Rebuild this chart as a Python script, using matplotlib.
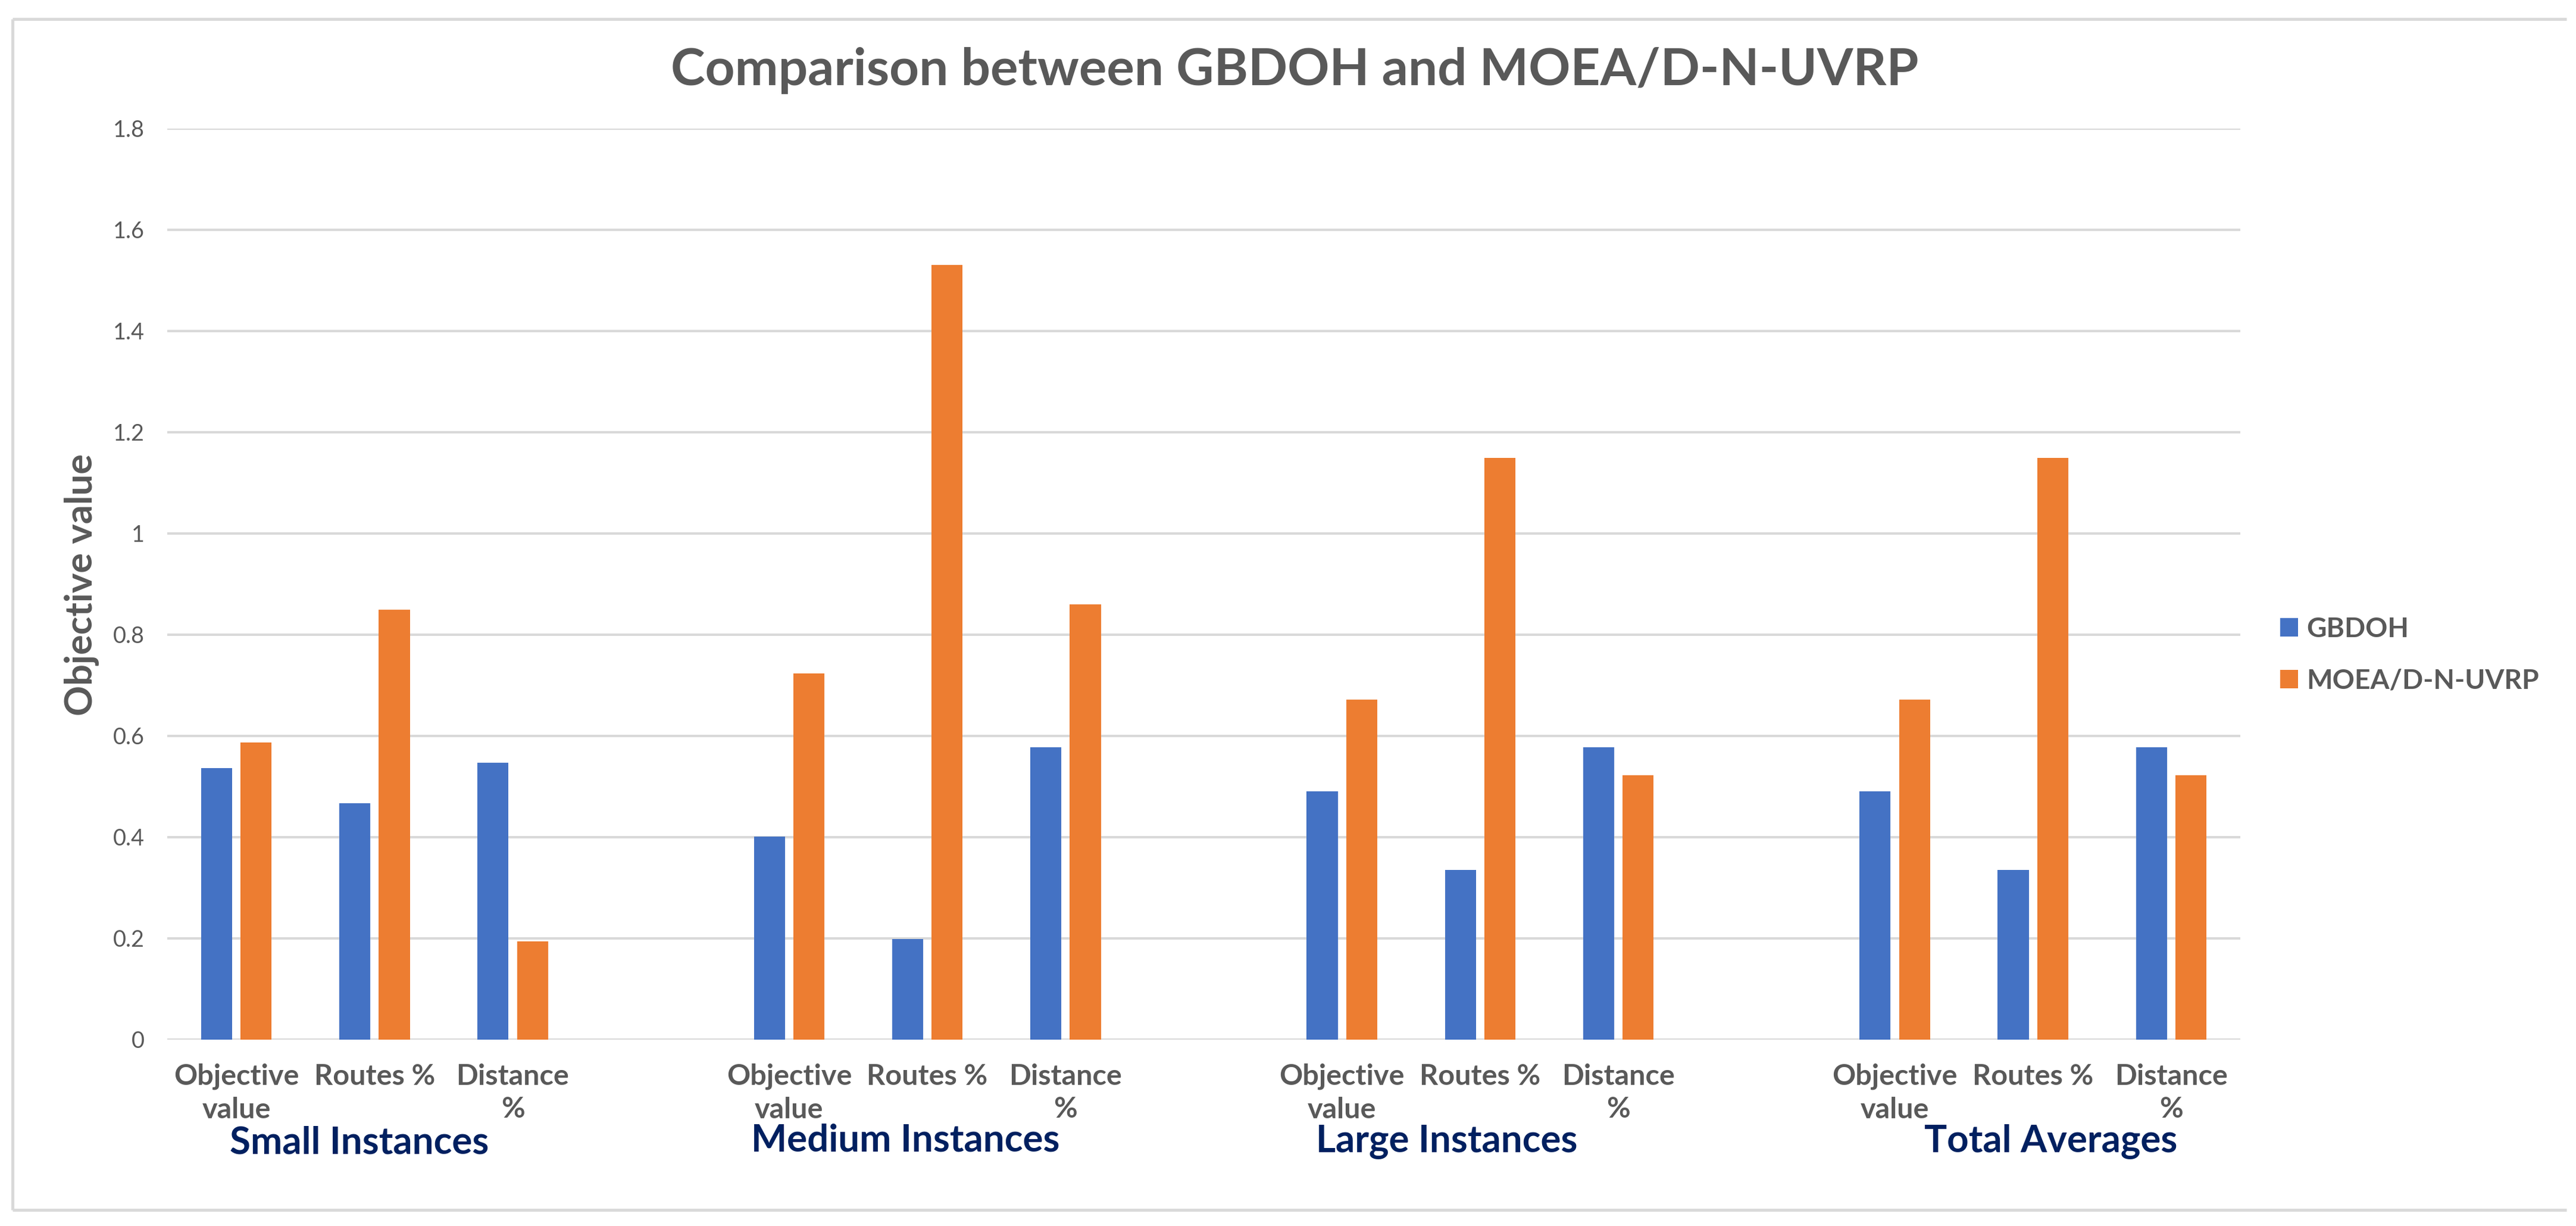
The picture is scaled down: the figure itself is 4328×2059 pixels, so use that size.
import numpy as np
import matplotlib
matplotlib.use("Agg")
import matplotlib.pyplot as plt
from matplotlib.lines import Line2D
from matplotlib.transforms import blended_transform_factory
from matplotlib.font_manager import FontProperties

# ---------------------------------------------------------------------------
# data
# ---------------------------------------------------------------------------
groups = ["Small Instances", "Medium Instances", "Large Instances", "Total Averages"]
categories = ["Objective\nvalue", "Routes %", "Distance\n%"]
series_names = ["GBDOH", "MOEA/D-N-UVRP"]

gbdoh = [0.536, 0.467, 0.547,
         0.401, 0.199, 0.578,
         0.491, 0.335, 0.578,
         0.491, 0.335, 0.578]
moea = [0.587, 0.849, 0.194,
        0.724, 1.531, 0.860,
        0.672, 1.150, 0.522,
        0.672, 1.150, 0.522]

yticks = [0, 0.2, 0.4, 0.6, 0.8, 1.0, 1.2, 1.4, 1.6, 1.8]
ytick_labels = ["0", "0.2", "0.4", "0.6", "0.8", "1", "1.2", "1.4", "1.6", "1.8"]

# ---------------------------------------------------------------------------
# style / layout (pixel coordinates of a 4328 x 2059 canvas)
# ---------------------------------------------------------------------------
W, H, DPI = 4328, 2059, 100
FONT = ["Lato", "DejaVu Sans"]
plt.rcParams["font.family"] = FONT

BLUE = "#4472C4"
ORANGE = "#ED7D31"
GRAY_TXT = "#595959"
GRID = "#D9D9D9"
NAVY = "#002060"

group_label_x = [0.89, 4.84, 8.76, 13.13]   # slot units
group_label_base = [1937, 1934, 1934, 1934]  # px baseline

fig = plt.figure(figsize=(W / DPI, H / DPI), dpi=DPI)
fig.patch.set_facecolor("white")
renderer = fig.canvas.get_renderer()


def fx(x):
    return x / W


def fy(y):
    return 1 - y / H


def size_for_width(s, target_px, weight="normal"):
    """Font size (pt) so that text s is target_px wide."""
    fp = FontProperties(family=FONT, weight=weight, size=100)
    w, _, _ = renderer.get_text_width_height_descent(s, fp, ismath=False)
    return 100 * target_px / w


def lp_metrics(size, weight="normal"):
    fp = FontProperties(family=FONT, weight=weight, size=size)
    _, h, d = renderer.get_text_width_height_descent("lp", fp, ismath=False)
    return h, d


# outer frame (top, left, bottom)
for xs, ys in [([21, 4312], [32, 32]), ([21, 21], [32, 2032]), ([21, 4312], [2032, 2032])]:
    fig.add_artist(Line2D([fx(x) for x in xs], [fy(y) for y in ys],
                          transform=fig.transFigure, color=GRID, lw=3.6,
                          solid_capstyle="butt"))

ax = fig.add_axes([fx(281), fy(1746), fx(3764) - fx(281), fy(216) - fy(1746)])

# ---------------------------------------------------------------------------
# bars
# ---------------------------------------------------------------------------
slots = np.array([g * 4 + k for g in range(len(groups)) for k in range(len(categories))])
bw = 0.225
off = 0.143
b1 = ax.bar(slots - off, gbdoh, width=bw, color=BLUE, zorder=3, label=series_names[0])
b2 = ax.bar(slots + off, moea, width=bw, color=ORANGE, zorder=3, label=series_names[1])

ax.set_xlim(-0.5, 14.5)
ax.set_ylim(0, 1.8)
for s in ax.spines.values():
    s.set_visible(False)
ax.set_axisbelow(True)
ax.yaxis.grid(True, color=GRID, lw=2.9)
ax.set_yticks(yticks)

# y tick labels
ysize = size_for_width("0.8", 53)
ax.set_yticklabels(ytick_labels, fontsize=ysize, color=GRAY_TXT)
ax.tick_params(axis="y", length=0, pad=(281 - 243) * 72 / DPI)

# x tick labels (two-line categories)
xsize = size_for_width("Objective", 210, weight="bold")
lh, ld = lp_metrics(xsize, "bold")
ls = (55 - ld) / (lh - ld)
ax.set_xticks(slots)
ax.set_xticklabels(categories * len(groups), fontsize=xsize, fontweight="bold",
                   color=GRAY_TXT, linespacing=ls)
ax.tick_params(axis="x", length=0, pad=(1822 - (lh - ld) - 1746) * 72 / DPI)

# group labels
trans = blended_transform_factory(ax.transData, fig.transFigure)
gsize = size_for_width("Small Instances", 435, weight="bold")
for name, gx, gy in zip(groups, group_label_x, group_label_base):
    ax.text(gx, fy(gy), name, transform=trans, ha="center", va="baseline",
            fontsize=gsize, fontweight="bold", color=NAVY, clip_on=False)

# y label
ylsize = size_for_width("Objective value", 440, weight="bold")
fig.text(fx(154), fy(982), "Objective value", rotation=90, rotation_mode="anchor",
         ha="center", va="baseline", fontsize=ylsize, fontweight="bold", color=GRAY_TXT)

# title
tsize = size_for_width("Comparison between GBDOH and MOEA/D-N-UVRP", 2095, weight="bold")
fig.text(fx(2175), fy(143), "Comparison between GBDOH and MOEA/D-N-UVRP",
         ha="center", va="baseline", fontsize=tsize, fontweight="bold", color=GRAY_TXT)

# legend
lsize = size_for_width("MOEA/D-N-UVRP", 390, weight="bold")
fs_px = lsize * DPI / 72
th, td = lp_metrics(lsize, "bold")
leg = fig.legend(handles=[b1, b2], labels=series_names, loc="center left",
                 bbox_to_anchor=(fx(3831), fy(1100)), frameon=False,
                 borderpad=0, borderaxespad=0,
                 handlelength=30 / fs_px, handleheight=30 / fs_px,
                 handletextpad=14 / fs_px, labelspacing=(87 - th) / fs_px,
                 prop=FontProperties(family=FONT, weight="bold", size=lsize))
for t in leg.get_texts():
    t.set_color(GRAY_TXT)

fig.savefig("out.png", dpi=DPI, facecolor="white")
